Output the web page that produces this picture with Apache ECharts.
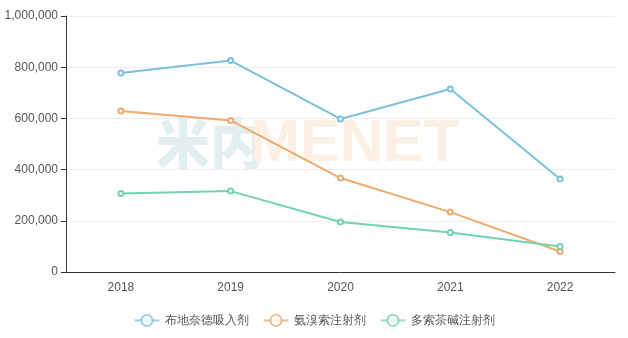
<!DOCTYPE html>
<html><head><meta charset="utf-8">
<script src="https://cdn.jsdelivr.net/npm/echarts@6/dist/echarts.min.js"></script>
<style>html,body{margin:0;padding:0;background:#fff}#c{width:628px;height:338px}</style>
</head><body><div id="c"></div>
<script>
const categories = ['2018','2019','2020','2021','2022'];
const seriesNames = ['布地奈德吸入剂','氨溴索注射剂','多索茶碱注射剂'];
const budesonide = [777000, 826000, 598000, 715000, 363000];
const ambroxol = [629000, 592000, 367000, 234000, 80000];
const doxofylline = [307000, 316000, 195000, 154000, 100000];
const colors = ['#7dc0dc','#eeaa6e','#72d3ac'];
const chart = echarts.init(document.getElementById('c'));
function mk(name, data, i){
  return {name, type:'line', data, symbol:'emptyCircle', symbolSize:5,
    lineStyle:{width:2,color:colors[i]}, itemStyle:{color:colors[i],borderWidth:1.2}};
}
chart.setOption({
  animation:false,
  color:colors,
  grid:{left:66,right:13,top:16,bottom:66},
  graphic:[
    {type:'text',left:156,top:116,z:-10,style:{text:'米内',font:'900 54px "Noto Sans CJK SC"',fill:'#e3eef1'}},
    {type:'text',left:250,top:114,z:-10,style:{text:'MENET',font:'bold 60px "Liberation Sans"',fill:'#fcefe4'}}
  ],
  legend:{bottom:6,itemGap:14,itemWidth:25,itemHeight:14,textStyle:{color:'#555',fontSize:12},
    itemStyle:{opacity:0.75}, lineStyle:{opacity:0.75}},
  xAxis:{type:'category',data:categories,boundaryGap:true,
    axisLine:{lineStyle:{color:'#333'}},axisTick:{lineStyle:{color:'#333'}},
    axisLabel:{color:'#555',fontSize:12,margin:10}},
  yAxis:{type:'value',min:0,max:1000000,interval:200000,
    axisLine:{show:true,lineStyle:{color:'#333'}},axisTick:{show:true,lineStyle:{color:'#333'}},
    splitLine:{lineStyle:{color:'#eee'}},
    axisLabel:{color:'#555',fontSize:12,formatter:v=>v.toLocaleString('en-US')}},
  series:[mk(seriesNames[0],budesonide,0),mk(seriesNames[1],ambroxol,1),mk(seriesNames[2],doxofylline,2)]
});
</script></body></html>
